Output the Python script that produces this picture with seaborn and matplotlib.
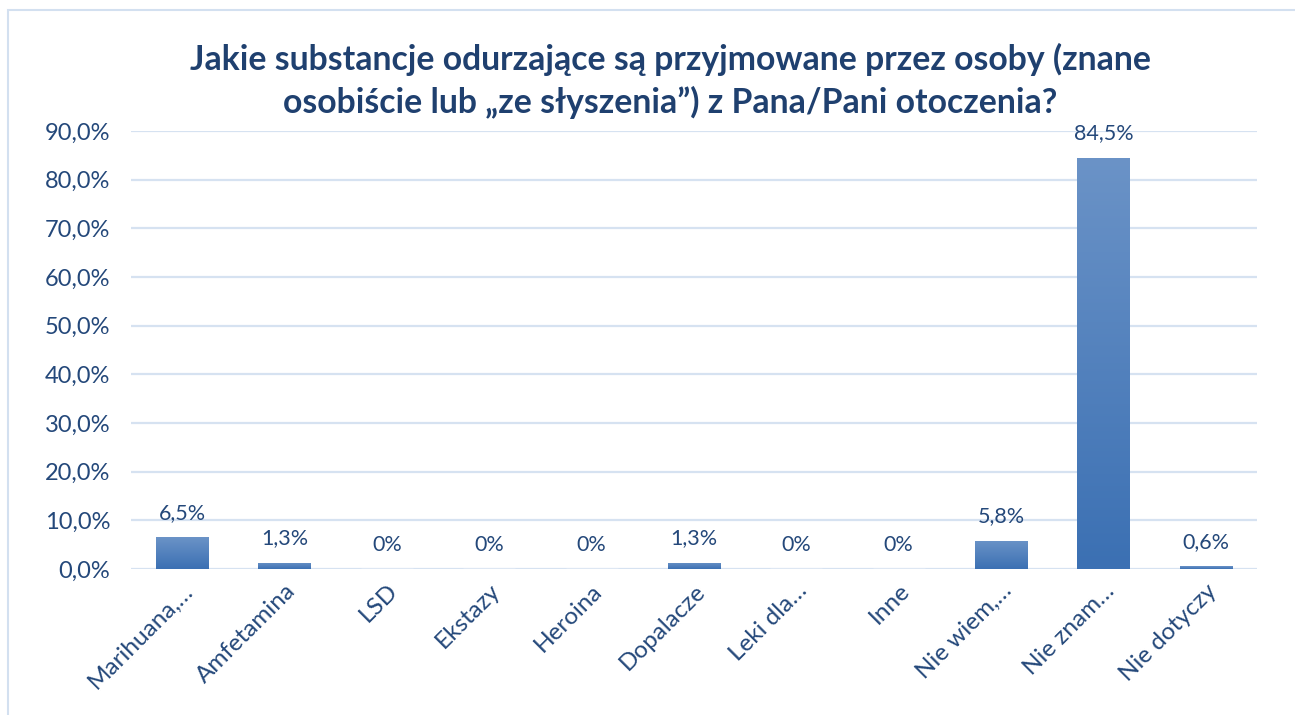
import numpy as np
import pandas as pd
import seaborn as sns
import matplotlib.pyplot as plt
from matplotlib.patches import Rectangle
from matplotlib.colors import LinearSegmentedColormap

categories = ["Marihuana,…", "Amfetamina", "LSD", "Ekstazy", "Heroina", "Dopalacze",
              "Leki dla…", "Inne", "Nie wiem,…", "Nie znam…", "Nie dotyczy"]
values = [6.5, 1.3, 0, 0, 0, 1.3, 0, 0, 5.8, 84.5, 0.6]
labels = ["6,5%", "1,3%", "0%", "0%", "0%", "1,3%", "0%", "0%", "5,8%", "84,5%", "0,6%"]
yticks = [0, 10, 20, 30, 40, 50, 60, 70, 80, 90]

title = "Jakie substancje odurzające są przyjmowane przez osoby (znane\nosobiście lub „ze słyszenia”) z Pana/Pani otoczenia?"

df = pd.DataFrame({"cat": categories, "val": values})

sns.set_theme(style="white")
plt.rcParams['font.family'] = ['Lato', 'DejaVu Sans']
txt_col = "#24487a"

fig = plt.figure(figsize=(12.95, 7.15), dpi=100)
ax = fig.add_axes([131 / 1295, 1 - 569 / 715, 1126 / 1295, 438 / 715])

sns.barplot(data=df, x="cat", y="val", color="#4a7fc0", width=0.51, ax=ax)

# gradient fill for bars
cmap = LinearSegmentedColormap.from_list("g", ["#3b70b3", "#6b93c7"])
grad = np.linspace(0, 1, 256).reshape(-1, 1)
for p in ax.patches:
    h = p.get_height()
    if h <= 0:
        continue
    x0 = p.get_x()
    w = p.get_width()
    p.set_facecolor("none")
    p.set_edgecolor("none")
    im = ax.imshow(grad, extent=[x0, x0 + w, 0, h], origin="lower", cmap=cmap,
                   aspect="auto", zorder=3)
    im.set_clip_path(p)

ax.set_xlim(-0.5, len(categories) - 0.5)
ax.set_ylim(0, 90)
ax.set_yticks(yticks)
ax.set_yticklabels([f"{t:.1f}%".replace(".", ",") for t in yticks], color=txt_col, fontsize=17)
ax.set_xticks(range(len(categories)))
ax.set_xticklabels(categories, rotation=45, ha="right", rotation_mode="anchor",
                   color=txt_col, fontsize=17.5)
ax.tick_params(axis="x", length=0, pad=8)
ax.tick_params(axis="y", length=0, pad=15)
ax.set_xlabel("")
ax.set_ylabel("")
ax.grid(axis="y", color="#d6e2f1", linewidth=1.6, zorder=0)
ax.set_axisbelow(True)
for s in ax.spines.values():
    s.set_visible(False)

for i, (v, lab) in enumerate(zip(values, labels)):
    ax.annotate(lab, (i, v), xytext=(0, 17.5), textcoords="offset points",
                ha="center", va="center", color=txt_col, fontsize=15.5)

fig.text(670 / 1295, 0.94, title, ha="center", va="top", fontsize=24.3, fontweight="bold",
         color="#1f406f", linespacing=1.38)

fig.patches.append(Rectangle((8 / 1295, -0.01), 1.0, 1 - 10 / 715 + 0.01,
                             transform=fig.transFigure, fill=False,
                             edgecolor="#d3e0f0", linewidth=1.5))

fig.savefig("out.png", dpi=100)
